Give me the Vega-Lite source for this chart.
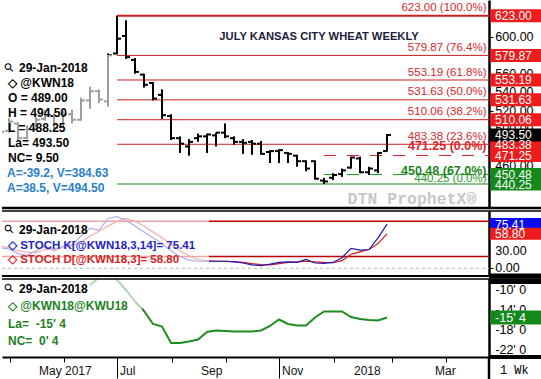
{
"$schema":"https://vega.github.io/schema/vega-lite/v6.json",
"padding":0,
"background":"white",
"spacing":3,
"bounds":"flush",
"config":{"view":{"stroke":null},"font":"Liberation Sans","axis":{"labelFont":"Liberation Sans"}},
"resolve":{"scale":{"x":"independent","y":"independent","color":"independent"}},
"datasets":{
"bars":[
{"d":"2017-04-03","o":500,"h":506,"l":492,"c":497},
{"d":"2017-04-10","o":498,"h":512,"l":496,"c":508},
{"d":"2017-04-17","o":506,"h":507,"l":487,"c":490},
{"d":"2017-04-24","o":490,"h":504,"l":489,"c":500},
{"d":"2017-05-01","o":500,"h":513,"l":499,"c":510},
{"d":"2017-05-08","o":511,"h":521,"l":509,"c":514},
{"d":"2017-05-15","o":514,"h":517,"l":497,"c":501},
{"d":"2017-05-22","o":502,"h":520,"l":501,"c":516},
{"d":"2017-05-29","o":516,"h":521,"l":506,"c":510},
{"d":"2017-06-05","o":510,"h":534,"l":509,"c":531},
{"d":"2017-06-12","o":531,"h":546,"l":522,"c":541},
{"d":"2017-06-19","o":541,"h":543,"l":528,"c":532},
{"d":"2017-06-26","o":530,"h":582,"l":524,"c":580},
{"d":"2017-07-03","o":582,"h":623,"l":581,"c":598},
{"d":"2017-07-10","o":601,"h":618,"l":576,"c":578},
{"d":"2017-07-17","o":575,"h":577,"l":560,"c":562},
{"d":"2017-07-24","o":559,"h":560,"l":545,"c":548},
{"d":"2017-07-31","o":550,"h":551,"l":531,"c":533},
{"d":"2017-08-07","o":537,"h":543,"l":511,"c":515},
{"d":"2017-08-14","o":514,"h":516,"l":488,"c":490},
{"d":"2017-08-21","o":490,"h":492,"l":474,"c":484},
{"d":"2017-08-28","o":481,"h":489,"l":471,"c":486},
{"d":"2017-09-04","o":490,"h":495,"l":486,"c":492},
{"d":"2017-09-11","o":492,"h":495,"l":474,"c":494},
{"d":"2017-09-18","o":493,"h":496,"l":481,"c":496},
{"d":"2017-09-25","o":496,"h":506,"l":490,"c":492},
{"d":"2017-10-02","o":490,"h":492,"l":483,"c":486},
{"d":"2017-10-09","o":486,"h":489,"l":473,"c":485},
{"d":"2017-10-16","o":486,"h":488,"l":472,"c":484},
{"d":"2017-10-23","o":484,"h":487,"l":472,"c":473},
{"d":"2017-10-30","o":475,"h":477,"l":463,"c":476},
{"d":"2017-11-06","o":476,"h":478,"l":463,"c":477},
{"d":"2017-11-13","o":474,"h":475,"l":463,"c":473},
{"d":"2017-11-20","o":471,"h":472,"l":459,"c":465},
{"d":"2017-11-27","o":465,"h":466,"l":454,"c":457},
{"d":"2017-12-04","o":465,"h":466,"l":445,"c":446},
{"d":"2017-12-11","o":444,"h":447,"l":440.25,"c":443},
{"d":"2017-12-18","o":447,"h":452,"l":444.5,"c":450},
{"d":"2017-12-25","o":451,"h":457,"l":448,"c":455},
{"d":"2018-01-01","o":458,"h":470,"l":457,"c":469},
{"d":"2018-01-08","o":468,"h":470,"l":452,"c":453},
{"d":"2018-01-15","o":453,"h":459,"l":450,"c":457},
{"d":"2018-01-22","o":455,"h":475,"l":452,"c":474},
{"d":"2018-01-29","o":476,"h":494.5,"l":475.5,"c":493.5}
],
"fib":[
{"lv":623,"lab":"623.00 (100.0%)"},
{"lv":579.87,"lab":"579.87 (76.4%)"},
{"lv":553.19,"lab":"553.19 (61.8%)"},
{"lv":531.63,"lab":"531.63 (50.0%)"},
{"lv":510.06,"lab":"510.06 (38.2%)"},
{"lv":483.38,"lab":"483.38 (23.6%)"}
],
"stoch":[
{"d":"2017-04-03","k":35,"dd":38},
{"d":"2017-04-10","k":33,"dd":35},
{"d":"2017-04-17","k":25,"dd":30},
{"d":"2017-04-24","k":22,"dd":27},
{"d":"2017-05-01","k":30,"dd":27},
{"d":"2017-05-08","k":38,"dd":32},
{"d":"2017-05-15","k":30,"dd":33},
{"d":"2017-05-22","k":38,"dd":35},
{"d":"2017-05-29","k":40,"dd":39},
{"d":"2017-06-05","k":55,"dd":44},
{"d":"2017-06-12","k":68,"dd":55},
{"d":"2017-06-19","k":65,"dd":63},
{"d":"2017-06-26","k":85,"dd":72},
{"d":"2017-07-03","k":88,"dd":80},
{"d":"2017-07-10","k":82,"dd":85},
{"d":"2017-07-17","k":72,"dd":80},
{"d":"2017-07-24","k":62,"dd":72},
{"d":"2017-07-31","k":52,"dd":62},
{"d":"2017-08-07","k":42,"dd":52},
{"d":"2017-08-14","k":30,"dd":41},
{"d":"2017-08-21","k":20,"dd":30},
{"d":"2017-08-28","k":14,"dd":21},
{"d":"2017-09-04","k":12,"dd":15},
{"d":"2017-09-11","k":12,"dd":13},
{"d":"2017-09-18","k":12,"dd":12},
{"d":"2017-09-25","k":12,"dd":12},
{"d":"2017-10-02","k":11,"dd":11.5},
{"d":"2017-10-09","k":9,"dd":10},
{"d":"2017-10-16","k":6,"dd":8},
{"d":"2017-10-23","k":4.5,"dd":6.5},
{"d":"2017-10-30","k":7,"dd":6},
{"d":"2017-11-06","k":10,"dd":8},
{"d":"2017-11-13","k":11,"dd":10},
{"d":"2017-11-20","k":10,"dd":11},
{"d":"2017-11-27","k":15,"dd":12},
{"d":"2017-12-04","k":9,"dd":11},
{"d":"2017-12-11","k":8.5,"dd":10},
{"d":"2017-12-18","k":10,"dd":9.5},
{"d":"2017-12-25","k":18,"dd":13},
{"d":"2018-01-01","k":34,"dd":24},
{"d":"2018-01-08","k":31,"dd":28},
{"d":"2018-01-15","k":32,"dd":32},
{"d":"2018-01-22","k":52,"dd":42},
{"d":"2018-01-29","k":75.41,"dd":58.8}
],
"spread":[
{"d":"2017-06-12","s":-9.0},
{"d":"2017-06-19","s":-7.5},
{"d":"2017-06-26","s":-6.5},
{"d":"2017-07-03","s":-8.0},
{"d":"2017-07-10","s":-10.0},
{"d":"2017-07-17","s":-12.3},
{"d":"2017-07-24","s":-14.2},
{"d":"2017-07-31","s":-16.8},
{"d":"2017-08-07","s":-17.3},
{"d":"2017-08-14","s":-20.6},
{"d":"2017-08-21","s":-20.6},
{"d":"2017-08-28","s":-20.3},
{"d":"2017-09-04","s":-19.9},
{"d":"2017-09-11","s":-18.4},
{"d":"2017-09-18","s":-18.1},
{"d":"2017-09-25","s":-18.2},
{"d":"2017-10-02","s":-18.3},
{"d":"2017-10-09","s":-18.3},
{"d":"2017-10-16","s":-18.3},
{"d":"2017-10-23","s":-18.1},
{"d":"2017-10-30","s":-17.2},
{"d":"2017-11-06","s":-15.9},
{"d":"2017-11-13","s":-16.8},
{"d":"2017-11-20","s":-17.1},
{"d":"2017-11-27","s":-17.1},
{"d":"2017-12-04","s":-15.5},
{"d":"2017-12-11","s":-14.3},
{"d":"2017-12-18","s":-14.3},
{"d":"2017-12-25","s":-14.3},
{"d":"2018-01-01","s":-15.4},
{"d":"2018-01-08","s":-15.8},
{"d":"2018-01-15","s":-16.0},
{"d":"2018-01-22","s":-16.1},
{"d":"2018-01-29","s":-15.5}
],
"boxTop":[
{"v":623,"t":"623.00","k":"r"},
{"v":579.87,"t":"579.87","k":"r"},
{"v":553.19,"t":"553.19","k":"r"},
{"v":531.63,"t":"531.63","k":"r"},
{"v":510.06,"t":"510.06","k":"r"},
{"v":483.38,"t":"483.38","k":"r"},
{"v":493.5,"t":"493.50","k":"k"},
{"v":471.25,"t":"471.25","k":"r"},
{"v":450.48,"t":"450.48","k":"g"},
{"v":440.25,"t":"440.25","k":"g"}
],
"boxSto":[
{"v":75.41,"t":"75.41","k":"b"},
{"v":58.8,"t":"58.80","k":"r"}
],
"boxSpr":[
{"v":-15.5,"t":"-15' 4","k":"g"}
],
"ytTop":[{"v":440},{"v":460},{"v":480},{"v":500},{"v":520},{"v":540},{"v":560},{"v":580},{"v":600},{"v":620}],
"ytSto":[{"v":0},{"v":30},{"v":60}],
"ytSpr":[{"v":-22,"t":"-22' 0"},{"v":-18,"t":"-18' 0"},{"v":-14,"t":"-14' 0"},{"v":-10,"t":"-10' 0"}],
"xlab":[
{"d":"2017-05-01","t":"May 2017"},
{"d":"2017-07-03","t":"Jul"},
{"d":"2017-09-04","t":"Sep"},
{"d":"2017-11-06","t":"Nov"},
{"d":"2018-01-01","t":"2018"},
{"d":"2018-03-05","t":"Mar"}
]
},
"vconcat":[
{
"width":487,"height":208,
"layer":[
{"data":{"name":"fib"},"mark":{"type":"rule","color":"#cc1f1f"},
"encoding":{"x":{"datum":{"year":2017,"month":"jul","date":3,"utc":true},"type":"temporal","scale":{"type":"utc","domain":[{"year":2017,"month":"apr","date":4,"hours":13,"utc":true},{"year":2018,"month":"apr","date":18,"hours":7,"minutes":43,"utc":true}]},"axis":null},
"x2":{"datum":{"year":2018,"month":"apr","date":18,"hours":7,"minutes":43,"utc":true}},
"y":{"field":"lv","type":"quantitative","scale":{"domain":[414.19,640.05],"nice":false,"zero":false},"axis":{"orient":"right","values":[440,460,480,500,520,540,560,580,600,620],"labels":false,"tickColor":"black","tickSize":4,"domainColor":"black","domainWidth":2.5,"grid":false,"title":null}},
"strokeWidth":{"condition":{"test":"datum.lv == 623","value":2},"value":1}}},
{"data":{"values":[{}]},"mark":{"type":"rule","color":"#1a8a1a","strokeWidth":1},
"encoding":{"x":{"datum":{"year":2017,"month":"jul","date":3,"utc":true},"type":"temporal","scale":{"type":"utc","domain":[{"year":2017,"month":"apr","date":4,"hours":13,"utc":true},{"year":2018,"month":"apr","date":18,"hours":7,"minutes":43,"utc":true}]},"axis":null},
"x2":{"datum":{"year":2018,"month":"apr","date":18,"hours":7,"minutes":43,"utc":true}},
"y":{"datum":440.25,"type":"quantitative","scale":{"domain":[414.19,640.05],"nice":false,"zero":false}}}},
{"data":{"values":[{}]},"mark":{"type":"rule","color":"#cc1f1f","strokeWidth":1,"strokeDash":[12,11]},
"encoding":{"x":{"datum":{"year":2017,"month":"dec","date":11,"utc":true},"type":"temporal","scale":{"type":"utc","domain":[{"year":2017,"month":"apr","date":4,"hours":13,"utc":true},{"year":2018,"month":"apr","date":18,"hours":7,"minutes":43,"utc":true}]},"axis":null},
"x2":{"datum":{"year":2018,"month":"apr","date":18,"hours":7,"minutes":43,"utc":true}},
"y":{"datum":471.25,"type":"quantitative","scale":{"domain":[414.19,640.05],"nice":false,"zero":false}}}},
{"data":{"values":[{}]},"mark":{"type":"rule","color":"#1a8a1a","strokeWidth":1,"strokeDash":[12,11]},
"encoding":{"x":{"datum":{"year":2017,"month":"dec","date":11,"utc":true},"type":"temporal","scale":{"type":"utc","domain":[{"year":2017,"month":"apr","date":4,"hours":13,"utc":true},{"year":2018,"month":"apr","date":18,"hours":7,"minutes":43,"utc":true}]},"axis":null},
"x2":{"datum":{"year":2018,"month":"apr","date":18,"hours":7,"minutes":43,"utc":true}},
"y":{"datum":450.48,"type":"quantitative","scale":{"domain":[414.19,640.05],"nice":false,"zero":false}}}},
{"data":{"name":"bars"},"mark":{"type":"rule","color":"black","strokeWidth":2,"clip":true},
"encoding":{"x":{"field":"d","type":"temporal","scale":{"type":"utc","domain":[{"year":2017,"month":"apr","date":4,"hours":13,"utc":true},{"year":2018,"month":"apr","date":18,"hours":7,"minutes":43,"utc":true}]},"axis":null},
"y":{"field":"l","type":"quantitative","scale":{"domain":[414.19,640.05],"nice":false,"zero":false}},"y2":{"field":"h"}}},
{"data":{"name":"bars"},"mark":{"type":"rule","color":"black","strokeWidth":2,"xOffset":-4,"x2Offset":0,"clip":true},
"encoding":{"x":{"field":"d","type":"temporal","scale":{"type":"utc","domain":[{"year":2017,"month":"apr","date":4,"hours":13,"utc":true},{"year":2018,"month":"apr","date":18,"hours":7,"minutes":43,"utc":true}]},"axis":null},"x2":{"field":"d"},
"y":{"field":"o","type":"quantitative","scale":{"domain":[414.19,640.05],"nice":false,"zero":false}}}},
{"data":{"name":"bars"},"mark":{"type":"rule","color":"black","strokeWidth":2,"xOffset":0,"x2Offset":4,"clip":true},
"encoding":{"x":{"field":"d","type":"temporal","scale":{"type":"utc","domain":[{"year":2017,"month":"apr","date":4,"hours":13,"utc":true},{"year":2018,"month":"apr","date":18,"hours":7,"minutes":43,"utc":true}]},"axis":null},"x2":{"field":"d"},
"y":{"field":"c","type":"quantitative","scale":{"domain":[414.19,640.05],"nice":false,"zero":false}}}},
{"data":{"values":[{}]},"mark":{"type":"rect","fill":"white","opacity":0.62},
"encoding":{"x":{"datum":{"year":2017,"month":"apr","date":4,"hours":13,"utc":true},"type":"temporal","scale":{"type":"utc","domain":[{"year":2017,"month":"apr","date":4,"hours":13,"utc":true},{"year":2018,"month":"apr","date":18,"hours":7,"minutes":43,"utc":true}]},"axis":null},
"x2":{"datum":{"year":2017,"month":"jun","date":29,"hours":4,"utc":true}},
"y":{"datum":580.3,"type":"quantitative","scale":{"domain":[414.19,640.05],"nice":false,"zero":false}},"y2":{"datum":428.3}}},
{"data":{"name":"fib"},"mark":{"type":"text","align":"right","baseline":"alphabetic","dx":-2.5,"dy":-4.4,"fontSize":11.5,"color":"#d8262b"},
"encoding":{"x":{"datum":{"year":2018,"month":"apr","date":18,"hours":7,"minutes":43,"utc":true},"type":"temporal","scale":{"type":"utc","domain":[{"year":2017,"month":"apr","date":4,"hours":13,"utc":true},{"year":2018,"month":"apr","date":18,"hours":7,"minutes":43,"utc":true}]},"axis":null},
"y":{"field":"lv","type":"quantitative","scale":{"domain":[414.19,640.05],"nice":false,"zero":false}},"text":{"field":"lab"}}},
{"data":{"values":[{}]},"mark":{"type":"text","align":"right","baseline":"alphabetic","dx":-2.5,"dy":-1.6,"fontSize":11.5,"color":"#2a9a2a","text":"440.25 (0.0%)"},
"encoding":{"x":{"datum":{"year":2018,"month":"apr","date":18,"hours":7,"minutes":43,"utc":true},"type":"temporal","scale":{"type":"utc","domain":[{"year":2017,"month":"apr","date":4,"hours":13,"utc":true},{"year":2018,"month":"apr","date":18,"hours":7,"minutes":43,"utc":true}]},"axis":null},
"y":{"datum":440.25,"type":"quantitative","scale":{"domain":[414.19,640.05],"nice":false,"zero":false}}}},
{"data":{"values":[{}]},"mark":{"type":"text","align":"right","baseline":"alphabetic","dx":-2.5,"dy":-5,"fontSize":12.5,"fontWeight":"bold","color":"#e0232a","text":"471.25 (0.0%)"},
"encoding":{"x":{"datum":{"year":2018,"month":"apr","date":18,"hours":7,"minutes":43,"utc":true},"type":"temporal","scale":{"type":"utc","domain":[{"year":2017,"month":"apr","date":4,"hours":13,"utc":true},{"year":2018,"month":"apr","date":18,"hours":7,"minutes":43,"utc":true}]},"axis":null},
"y":{"datum":471.25,"type":"quantitative","scale":{"domain":[414.19,640.05],"nice":false,"zero":false}}}},
{"data":{"values":[{}]},"mark":{"type":"text","align":"right","baseline":"alphabetic","dx":-2.5,"dy":0,"fontSize":12.5,"fontWeight":"bold","color":"#1f861f","text":"450.48 (67.0%)"},
"encoding":{"x":{"datum":{"year":2018,"month":"apr","date":18,"hours":7,"minutes":43,"utc":true},"type":"temporal","scale":{"type":"utc","domain":[{"year":2017,"month":"apr","date":4,"hours":13,"utc":true},{"year":2018,"month":"apr","date":18,"hours":7,"minutes":43,"utc":true}]},"axis":null},
"y":{"datum":450.48,"type":"quantitative","scale":{"domain":[414.19,640.05],"nice":false,"zero":false}}}},
{"data":{"values":[{}]},"mark":{"type":"text","align":"center","baseline":"middle","fontSize":11.2,"fontWeight":"bold","color":"#1c1c3a","text":"JULY KANSAS CITY WHEAT WEEKLY"},
"encoding":{"x":{"datum":{"year":2017,"month":"dec","date":7,"hours":3,"utc":true},"type":"temporal","scale":{"type":"utc","domain":[{"year":2017,"month":"apr","date":4,"hours":13,"utc":true},{"year":2018,"month":"apr","date":18,"hours":7,"minutes":43,"utc":true}]},"axis":null},
"y":{"datum":599.5,"type":"quantitative","scale":{"domain":[414.19,640.05],"nice":false,"zero":false}}}},
{"data":{"values":[{}]},"mark":{"type":"text","align":"center","baseline":"middle","font":"Liberation Mono","fontSize":16.5,"fontWeight":"bold","color":"#c6c6c6","text":"DTN ProphetX®"},
"encoding":{"x":{"datum":{"year":2018,"month":"feb","date":17,"hours":10,"utc":true},"type":"temporal","scale":{"type":"utc","domain":[{"year":2017,"month":"apr","date":4,"hours":13,"utc":true},{"year":2018,"month":"apr","date":18,"hours":7,"minutes":43,"utc":true}]},"axis":null},
"y":{"datum":423.96,"type":"quantitative","scale":{"domain":[414.19,640.05],"nice":false,"zero":false}}}},
{"data":{"values":[{}]},"mark":{"type":"text","align":"center","baseline":"middle","font":"DejaVu Sans","fontSize":12,"angle":315,"dx":5,"dy":5,"color":"black","text":"⚲"},
"encoding":{"x":{"datum":{"year":2017,"month":"apr","date":4,"hours":13,"utc":true},"type":"temporal","scale":{"type":"utc","domain":[{"year":2017,"month":"apr","date":4,"hours":13,"utc":true},{"year":2018,"month":"apr","date":18,"hours":7,"minutes":43,"utc":true}]},"axis":null},
"y":{"datum":566.75,"type":"quantitative","scale":{"domain":[414.19,640.05],"nice":false,"zero":false}}}},
{"data":{"values":[{}]},"mark":{"type":"text","align":"left","baseline":"alphabetic","dx":17,"fontSize":12,"fontWeight":"bold","color":"black","text":"29-Jan-2018"},
"encoding":{"x":{"datum":{"year":2017,"month":"apr","date":4,"hours":13,"utc":true},"type":"temporal","scale":{"type":"utc","domain":[{"year":2017,"month":"apr","date":4,"hours":13,"utc":true},{"year":2018,"month":"apr","date":18,"hours":7,"minutes":43,"utc":true}]},"axis":null},
"y":{"datum":561.9,"type":"quantitative","scale":{"domain":[414.19,640.05],"nice":false,"zero":false}}}},
{"data":{"values":[{}]},"mark":{"type":"text","align":"left","baseline":"alphabetic","dx":6,"fontSize":12,"fontWeight":"bold","lineHeight":15,"color":"black","text":["◇ @KWN18","O = 489.00","H = 494.50","L = 488.25","La= 493.50","NC= 9.50"]},
"encoding":{"x":{"datum":{"year":2017,"month":"apr","date":4,"hours":13,"utc":true},"type":"temporal","scale":{"type":"utc","domain":[{"year":2017,"month":"apr","date":4,"hours":13,"utc":true},{"year":2018,"month":"apr","date":18,"hours":7,"minutes":43,"utc":true}]},"axis":null},
"y":{"datum":546.0,"type":"quantitative","scale":{"domain":[414.19,640.05],"nice":false,"zero":false}}}},
{"data":{"values":[{}]},"mark":{"type":"text","align":"left","baseline":"alphabetic","dx":5,"fontSize":12,"fontWeight":"bold","lineHeight":15,"color":"#2a7fc9","text":["A=-39.2, V=384.63","A=38.5, V=494.50"]},
"encoding":{"x":{"datum":{"year":2017,"month":"apr","date":4,"hours":13,"utc":true},"type":"temporal","scale":{"type":"utc","domain":[{"year":2017,"month":"apr","date":4,"hours":13,"utc":true},{"year":2018,"month":"apr","date":18,"hours":7,"minutes":43,"utc":true}]},"axis":null},
"y":{"datum":447.85,"type":"quantitative","scale":{"domain":[414.19,640.05],"nice":false,"zero":false}}}},
{"data":{"name":"ytTop"},"mark":{"type":"text","align":"left","baseline":"middle","dx":6.3,"fontSize":12.5,"color":"black"},
"encoding":{"x":{"datum":{"year":2018,"month":"apr","date":18,"hours":7,"minutes":43,"utc":true},"type":"temporal","scale":{"type":"utc","domain":[{"year":2017,"month":"apr","date":4,"hours":13,"utc":true},{"year":2018,"month":"apr","date":18,"hours":7,"minutes":43,"utc":true}]},"axis":null},
"y":{"field":"v","type":"quantitative","scale":{"domain":[414.19,640.05],"nice":false,"zero":false}},"text":{"field":"v","type":"quantitative","format":".2f"}}},
{"data":{"name":"boxTop"},"mark":{"type":"rect","yOffset":-6.5,"y2Offset":6.5},
"encoding":{"x":{"datum":{"year":2018,"month":"apr","date":19,"hours":6,"utc":true},"type":"temporal","scale":{"type":"utc","domain":[{"year":2017,"month":"apr","date":4,"hours":13,"utc":true},{"year":2018,"month":"apr","date":18,"hours":7,"minutes":43,"utc":true}]},"axis":null},
"x2":{"datum":{"year":2018,"month":"may","date":30,"hours":12,"utc":true}},
"y":{"field":"v","type":"quantitative","scale":{"domain":[414.19,640.05],"nice":false,"zero":false}},"y2":{"field":"v"},
"color":{"field":"k","type":"nominal","scale":{"domain":["r","g","k","b"],"range":["#ee1c1c","#12891a","#000000","#1010f0"]},"legend":null}}},
{"data":{"name":"boxTop"},"mark":{"type":"text","align":"left","baseline":"middle","dx":2,"dy":0.5,"fontSize":12,"color":"white"},
"encoding":{"x":{"datum":{"year":2018,"month":"apr","date":21,"hours":12,"utc":true},"type":"temporal","scale":{"type":"utc","domain":[{"year":2017,"month":"apr","date":4,"hours":13,"utc":true},{"year":2018,"month":"apr","date":18,"hours":7,"minutes":43,"utc":true}]},"axis":null},
"y":{"field":"v","type":"quantitative","scale":{"domain":[414.19,640.05],"nice":false,"zero":false}},"text":{"field":"t"}}},
{"data":{"values":[{}]},"mark":{"type":"rule","color":"black","strokeWidth":2.5},
"encoding":{"x":{"datum":{"year":2017,"month":"apr","date":4,"hours":13,"utc":true},"type":"temporal","scale":{"type":"utc","domain":[{"year":2017,"month":"apr","date":4,"hours":13,"utc":true},{"year":2018,"month":"apr","date":18,"hours":7,"minutes":43,"utc":true}]},"axis":null},
"x2":{"datum":{"year":2018,"month":"may","date":30,"hours":12,"utc":true}},
"y":{"datum":414.19,"type":"quantitative","scale":{"domain":[414.19,640.05],"nice":false,"zero":false}}}}
]
},
{
"width":487,"height":65,
"layer":[
{"data":{"values":[{}]},"mark":{"type":"rule","color":"#c00000","strokeWidth":1.5},
"encoding":{"x":{"datum":{"year":2017,"month":"apr","date":4,"hours":13,"utc":true},"type":"temporal","scale":{"type":"utc","domain":[{"year":2017,"month":"apr","date":4,"hours":13,"utc":true},{"year":2018,"month":"apr","date":18,"hours":7,"minutes":43,"utc":true}]},"axis":null},
"x2":{"datum":{"year":2018,"month":"apr","date":18,"hours":7,"minutes":43,"utc":true}},
"y":{"datum":80,"type":"quantitative","scale":{"domain":[-13.12,97.67],"nice":false,"zero":false},"axis":{"orient":"right","values":[0,30,60],"labels":false,"tickColor":"black","tickSize":4,"domainColor":"black","domainWidth":2.5,"grid":false,"title":null}}}},
{"data":{"values":[{}]},"mark":{"type":"rule","color":"#c00000","strokeWidth":1.5},
"encoding":{"x":{"datum":{"year":2017,"month":"apr","date":4,"hours":13,"utc":true},"type":"temporal","scale":{"type":"utc","domain":[{"year":2017,"month":"apr","date":4,"hours":13,"utc":true},{"year":2018,"month":"apr","date":18,"hours":7,"minutes":43,"utc":true}]},"axis":null},
"x2":{"datum":{"year":2018,"month":"apr","date":18,"hours":7,"minutes":43,"utc":true}},
"y":{"datum":20,"type":"quantitative","scale":{"domain":[-13.12,97.67],"nice":false,"zero":false}}}},
{"data":{"values":[{}]},"mark":{"type":"rule","color":"#b8b8b8","strokeWidth":1,"strokeDash":[3,3]},
"encoding":{"x":{"datum":{"year":2017,"month":"apr","date":4,"hours":13,"utc":true},"type":"temporal","scale":{"type":"utc","domain":[{"year":2017,"month":"apr","date":4,"hours":13,"utc":true},{"year":2018,"month":"apr","date":18,"hours":7,"minutes":43,"utc":true}]},"axis":null},
"x2":{"datum":{"year":2018,"month":"apr","date":18,"hours":7,"minutes":43,"utc":true}},
"y":{"datum":0,"type":"quantitative","scale":{"domain":[-13.12,97.67],"nice":false,"zero":false}}}},
{"data":{"name":"stoch"},"mark":{"type":"line","color":"#d41414","strokeWidth":1.2,"clip":true},
"encoding":{"x":{"field":"d","type":"temporal","scale":{"type":"utc","domain":[{"year":2017,"month":"apr","date":4,"hours":13,"utc":true},{"year":2018,"month":"apr","date":18,"hours":7,"minutes":43,"utc":true}]},"axis":null},
"y":{"field":"dd","type":"quantitative","scale":{"domain":[-13.12,97.67],"nice":false,"zero":false}}}},
{"data":{"name":"stoch"},"mark":{"type":"line","color":"#1a1ab4","strokeWidth":1.2,"clip":true},
"encoding":{"x":{"field":"d","type":"temporal","scale":{"type":"utc","domain":[{"year":2017,"month":"apr","date":4,"hours":13,"utc":true},{"year":2018,"month":"apr","date":18,"hours":7,"minutes":43,"utc":true}]},"axis":null},
"y":{"field":"k","type":"quantitative","scale":{"domain":[-13.12,97.67],"nice":false,"zero":false}}}},
{"data":{"values":[{}]},"mark":{"type":"rect","fill":"white","opacity":0.65},
"encoding":{"x":{"datum":{"year":2017,"month":"apr","date":4,"hours":13,"utc":true},"type":"temporal","scale":{"type":"utc","domain":[{"year":2017,"month":"apr","date":4,"hours":13,"utc":true},{"year":2018,"month":"apr","date":18,"hours":7,"minutes":43,"utc":true}]},"axis":null},
"x2":{"datum":{"year":2017,"month":"sep","date":12,"hours":13,"utc":true}},
"y":{"datum":97.67,"type":"quantitative","scale":{"domain":[-13.12,97.67],"nice":false,"zero":false}},"y2":{"datum":3.9}}},
{"data":{"values":[{}]},"mark":{"type":"text","align":"center","baseline":"middle","font":"DejaVu Sans","fontSize":12,"angle":315,"dx":5,"dy":5,"color":"black","text":"⚲"},
"encoding":{"x":{"datum":{"year":2017,"month":"apr","date":4,"hours":13,"utc":true},"type":"temporal","scale":{"type":"utc","domain":[{"year":2017,"month":"apr","date":4,"hours":13,"utc":true},{"year":2018,"month":"apr","date":18,"hours":7,"minutes":43,"utc":true}]},"axis":null},
"y":{"datum":67.0,"type":"quantitative","scale":{"domain":[-13.12,97.67],"nice":false,"zero":false}}}},
{"data":{"values":[{}]},"mark":{"type":"text","align":"left","baseline":"alphabetic","dx":17,"fontSize":12,"fontWeight":"bold","color":"black","text":"29-Jan-2018"},
"encoding":{"x":{"datum":{"year":2017,"month":"apr","date":4,"hours":13,"utc":true},"type":"temporal","scale":{"type":"utc","domain":[{"year":2017,"month":"apr","date":4,"hours":13,"utc":true},{"year":2018,"month":"apr","date":18,"hours":7,"minutes":43,"utc":true}]},"axis":null},
"y":{"datum":59.1,"type":"quantitative","scale":{"domain":[-13.12,97.67],"nice":false,"zero":false}}}},
{"data":{"values":[{}]},"mark":{"type":"text","align":"left","baseline":"alphabetic","dx":6,"fontSize":11.5,"fontWeight":"bold","color":"#2323c3","text":"◇ STOCH K[@KWN18,3,14]= 75.41"},
"encoding":{"x":{"datum":{"year":2017,"month":"apr","date":4,"hours":13,"utc":true},"type":"temporal","scale":{"type":"utc","domain":[{"year":2017,"month":"apr","date":4,"hours":13,"utc":true},{"year":2018,"month":"apr","date":18,"hours":7,"minutes":43,"utc":true}]},"axis":null},
"y":{"datum":32.6,"type":"quantitative","scale":{"domain":[-13.12,97.67],"nice":false,"zero":false}}}},
{"data":{"values":[{}]},"mark":{"type":"text","align":"left","baseline":"alphabetic","dx":6,"fontSize":11.5,"fontWeight":"bold","color":"#d42323","text":"◇ STOCH D[@KWN18,3]= 58.80"},
"encoding":{"x":{"datum":{"year":2017,"month":"apr","date":4,"hours":13,"utc":true},"type":"temporal","scale":{"type":"utc","domain":[{"year":2017,"month":"apr","date":4,"hours":13,"utc":true},{"year":2018,"month":"apr","date":18,"hours":7,"minutes":43,"utc":true}]},"axis":null},
"y":{"datum":8.7,"type":"quantitative","scale":{"domain":[-13.12,97.67],"nice":false,"zero":false}}}},
{"data":{"name":"ytSto"},"mark":{"type":"text","align":"left","baseline":"middle","dx":6.3,"fontSize":12.5,"color":"black"},
"encoding":{"x":{"datum":{"year":2018,"month":"apr","date":18,"hours":7,"minutes":43,"utc":true},"type":"temporal","scale":{"type":"utc","domain":[{"year":2017,"month":"apr","date":4,"hours":13,"utc":true},{"year":2018,"month":"apr","date":18,"hours":7,"minutes":43,"utc":true}]},"axis":null},
"y":{"field":"v","type":"quantitative","scale":{"domain":[-13.12,97.67],"nice":false,"zero":false}},"text":{"field":"v","type":"quantitative","format":".2f"}}},
{"data":{"name":"boxSto"},"mark":{"type":"rect","yOffset":-6,"y2Offset":6},
"encoding":{"x":{"datum":{"year":2018,"month":"apr","date":19,"hours":6,"utc":true},"type":"temporal","scale":{"type":"utc","domain":[{"year":2017,"month":"apr","date":4,"hours":13,"utc":true},{"year":2018,"month":"apr","date":18,"hours":7,"minutes":43,"utc":true}]},"axis":null},
"x2":{"datum":{"year":2018,"month":"may","date":30,"hours":12,"utc":true}},
"y":{"field":"v","type":"quantitative","scale":{"domain":[-13.12,97.67],"nice":false,"zero":false}},"y2":{"field":"v"},
"color":{"field":"k","type":"nominal","scale":{"domain":["r","g","k","b"],"range":["#ee1c1c","#12891a","#000000","#0a0af5"]},"legend":null}}},
{"data":{"name":"boxSto"},"mark":{"type":"text","align":"left","baseline":"middle","dx":2,"dy":0.5,"fontSize":12,"color":"white"},
"encoding":{"x":{"datum":{"year":2018,"month":"apr","date":21,"hours":12,"utc":true},"type":"temporal","scale":{"type":"utc","domain":[{"year":2017,"month":"apr","date":4,"hours":13,"utc":true},{"year":2018,"month":"apr","date":18,"hours":7,"minutes":43,"utc":true}]},"axis":null},
"y":{"field":"v","type":"quantitative","scale":{"domain":[-13.12,97.67],"nice":false,"zero":false}},"text":{"field":"t"}}},
{"data":{"values":[{}]},"mark":{"type":"rule","color":"black","strokeWidth":1.5},
"encoding":{"x":{"datum":{"year":2017,"month":"apr","date":4,"hours":13,"utc":true},"type":"temporal","scale":{"type":"utc","domain":[{"year":2017,"month":"apr","date":4,"hours":13,"utc":true},{"year":2018,"month":"apr","date":18,"hours":7,"minutes":43,"utc":true}]},"axis":null},
"x2":{"datum":{"year":2018,"month":"may","date":30,"hours":12,"utc":true}},
"y":{"datum":97.67,"type":"quantitative","scale":{"domain":[-13.12,97.67],"nice":false,"zero":false}}}},
{"data":{"values":[{}]},"mark":{"type":"rule","color":"black","strokeWidth":2},
"encoding":{"x":{"datum":{"year":2017,"month":"apr","date":4,"hours":13,"utc":true},"type":"temporal","scale":{"type":"utc","domain":[{"year":2017,"month":"apr","date":4,"hours":13,"utc":true},{"year":2018,"month":"apr","date":18,"hours":7,"minutes":43,"utc":true}]},"axis":null},
"x2":{"datum":{"year":2018,"month":"may","date":30,"hours":12,"utc":true}},
"y":{"datum":-13.12,"type":"quantitative","scale":{"domain":[-13.12,97.67],"nice":false,"zero":false}}}},
{"data":{"values":[{}]},"mark":{"type":"rule","color":"black","strokeWidth":5},
"encoding":{"x":{"datum":{"year":2018,"month":"apr","date":18,"hours":7,"minutes":43,"utc":true},"type":"temporal","scale":{"type":"utc","domain":[{"year":2017,"month":"apr","date":4,"hours":13,"utc":true},{"year":2018,"month":"apr","date":18,"hours":7,"minutes":43,"utc":true}]},"axis":null},
"x2":{"datum":{"year":2018,"month":"may","date":30,"hours":12,"utc":true}},
"y":{"datum":-13.12,"type":"quantitative","scale":{"domain":[-13.12,97.67],"nice":false,"zero":false}}}}
]
},
{
"width":487,"height":78,
"layer":[
{"data":{"name":"spread"},"mark":{"type":"line","color":"#1f8c1f","strokeWidth":2,"clip":true},
"encoding":{"x":{"field":"d","type":"temporal","scale":{"type":"utc","domain":[{"year":2017,"month":"apr","date":4,"hours":13,"utc":true},{"year":2018,"month":"apr","date":18,"hours":7,"minutes":43,"utc":true}]},
"axis":{"orient":"bottom","values":[
{"year":2017,"month":"may","date":1,"utc":true},{"year":2017,"month":"jul","date":3,"utc":true},{"year":2017,"month":"sep","date":4,"utc":true},{"year":2017,"month":"nov","date":6,"utc":true},{"year":2018,"month":"jan","date":1,"utc":true},{"year":2018,"month":"mar","date":5,"utc":true},
{"year":2017,"month":"apr","date":10,"hours":12,"utc":true},{"year":2017,"month":"apr","date":20,"hours":12,"utc":true},{"year":2017,"month":"may","date":11,"hours":12,"utc":true},{"year":2017,"month":"may","date":22,"hours":12,"utc":true},{"year":2017,"month":"jun","date":1,"hours":12,"utc":true},{"year":2017,"month":"jun","date":12,"hours":12,"utc":true},{"year":2017,"month":"jun","date":22,"hours":12,"utc":true},
{"year":2017,"month":"jul","date":13,"hours":12,"utc":true},{"year":2017,"month":"jul","date":24,"hours":12,"utc":true},{"year":2017,"month":"aug","date":3,"hours":12,"utc":true},{"year":2017,"month":"aug","date":14,"hours":12,"utc":true},{"year":2017,"month":"aug","date":24,"hours":12,"utc":true},
{"year":2017,"month":"sep","date":14,"hours":12,"utc":true},{"year":2017,"month":"sep","date":25,"hours":12,"utc":true},{"year":2017,"month":"oct","date":5,"hours":12,"utc":true},{"year":2017,"month":"oct","date":16,"hours":12,"utc":true},{"year":2017,"month":"oct","date":26,"hours":12,"utc":true},
{"year":2017,"month":"nov","date":16,"hours":12,"utc":true},{"year":2017,"month":"nov","date":27,"hours":12,"utc":true},{"year":2017,"month":"dec","date":7,"hours":12,"utc":true},{"year":2017,"month":"dec","date":18,"hours":12,"utc":true},
{"year":2018,"month":"jan","date":11,"hours":12,"utc":true},{"year":2018,"month":"jan","date":22,"hours":12,"utc":true},{"year":2018,"month":"feb","date":1,"hours":12,"utc":true},{"year":2018,"month":"feb","date":12,"hours":12,"utc":true},{"year":2018,"month":"feb","date":22,"hours":12,"utc":true},
{"year":2018,"month":"mar","date":15,"hours":12,"utc":true},{"year":2018,"month":"mar","date":26,"hours":12,"utc":true},{"year":2018,"month":"apr","date":5,"hours":12,"utc":true},{"year":2018,"month":"apr","date":16,"hours":12,"utc":true}],
"labels":false,
"tickSize":{"condition":{"test":"utchours(datum.value) == 0","value":21},"value":5},
"tickColor":"black","domainColor":"black","domainWidth":2,"grid":false,"title":null}},
"y":{"field":"s","type":"quantitative","scale":{"domain":[-23.4,-7.8],"nice":false,"zero":false},
"axis":{"orient":"right","values":[-23,-22,-21,-20,-19,-18,-17,-16,-15,-14,-13,-12,-11,-10,-9,-8],"labels":false,"tickSize":{"condition":{"test":"(datum.value + 22) % 4 == 0","value":4},"value":2.5},"tickColor":"black","domainColor":"black","domainWidth":2.5,"grid":false,"title":null}}}},
{"data":{"values":[{}]},"mark":{"type":"rect","fill":"white","opacity":0.65},
"encoding":{"x":{"datum":{"year":2017,"month":"apr","date":4,"hours":13,"utc":true},"type":"temporal","scale":{"type":"utc","domain":[{"year":2017,"month":"apr","date":4,"hours":13,"utc":true},{"year":2018,"month":"apr","date":18,"hours":7,"minutes":43,"utc":true}]}},
"x2":{"datum":{"year":2017,"month":"jul","date":22,"hours":10,"utc":true}},
"y":{"datum":-7.8,"type":"quantitative","scale":{"domain":[-23.4,-7.8],"nice":false,"zero":false}},"y2":{"datum":-21}}},
{"data":{"values":[{}]},"mark":{"type":"text","align":"center","baseline":"middle","font":"DejaVu Sans","fontSize":12,"angle":315,"dx":5,"dy":5,"color":"black","text":"⚲"},
"encoding":{"x":{"datum":{"year":2017,"month":"apr","date":4,"hours":13,"utc":true},"type":"temporal","scale":{"type":"utc","domain":[{"year":2017,"month":"apr","date":4,"hours":13,"utc":true},{"year":2018,"month":"apr","date":18,"hours":7,"minutes":43,"utc":true}]}},
"y":{"datum":-9.6,"type":"quantitative","scale":{"domain":[-23.4,-7.8],"nice":false,"zero":false}}}},
{"data":{"values":[{}]},"mark":{"type":"text","align":"left","baseline":"alphabetic","dx":17,"fontSize":12,"fontWeight":"bold","color":"black","text":"29-Jan-2018"},
"encoding":{"x":{"datum":{"year":2017,"month":"apr","date":4,"hours":13,"utc":true},"type":"temporal","scale":{"type":"utc","domain":[{"year":2017,"month":"apr","date":4,"hours":13,"utc":true},{"year":2018,"month":"apr","date":18,"hours":7,"minutes":43,"utc":true}]}},
"y":{"datum":-10.52,"type":"quantitative","scale":{"domain":[-23.4,-7.8],"nice":false,"zero":false}}}},
{"data":{"values":[{}]},"mark":{"type":"text","align":"left","baseline":"alphabetic","dx":6,"fontSize":12,"fontWeight":"bold","lineHeight":17.4,"color":"#1f821f","text":["◇ @KWN18@KWU18","La=\u00a0 -15' 4","NC=\u00a0 0' 4"]},
"encoding":{"x":{"datum":{"year":2017,"month":"apr","date":4,"hours":13,"utc":true},"type":"temporal","scale":{"type":"utc","domain":[{"year":2017,"month":"apr","date":4,"hours":13,"utc":true},{"year":2018,"month":"apr","date":18,"hours":7,"minutes":43,"utc":true}]}},
"y":{"datum":-14.06,"type":"quantitative","scale":{"domain":[-23.4,-7.8],"nice":false,"zero":false}}}},
{"data":{"name":"ytSpr"},"mark":{"type":"text","align":"left","baseline":"middle","dx":6.3,"fontSize":12.5,"color":"black"},
"encoding":{"x":{"datum":{"year":2018,"month":"apr","date":18,"hours":7,"minutes":43,"utc":true},"type":"temporal","scale":{"type":"utc","domain":[{"year":2017,"month":"apr","date":4,"hours":13,"utc":true},{"year":2018,"month":"apr","date":18,"hours":7,"minutes":43,"utc":true}]}},
"y":{"field":"v","type":"quantitative","scale":{"domain":[-23.4,-7.8],"nice":false,"zero":false}},"text":{"field":"t"}}},
{"data":{"name":"xlab"},"mark":{"type":"text","align":"left","baseline":"middle","dx":3,"fontSize":12,"color":"#111111"},
"encoding":{"x":{"field":"d","type":"temporal","scale":{"type":"utc","domain":[{"year":2017,"month":"apr","date":4,"hours":13,"utc":true},{"year":2018,"month":"apr","date":18,"hours":7,"minutes":43,"utc":true}]}},
"y":{"datum":-26.25,"type":"quantitative","scale":{"domain":[-23.4,-7.8],"nice":false,"zero":false}},"text":{"field":"t"}}},
{"data":{"name":"boxSpr"},"mark":{"type":"rect","yOffset":-7,"y2Offset":7},
"encoding":{"x":{"datum":{"year":2018,"month":"apr","date":19,"hours":6,"utc":true},"type":"temporal","scale":{"type":"utc","domain":[{"year":2017,"month":"apr","date":4,"hours":13,"utc":true},{"year":2018,"month":"apr","date":18,"hours":7,"minutes":43,"utc":true}]}},
"x2":{"datum":{"year":2018,"month":"may","date":30,"hours":12,"utc":true}},
"y":{"field":"v","type":"quantitative","scale":{"domain":[-23.4,-7.8],"nice":false,"zero":false}},"y2":{"field":"v"},
"color":{"field":"k","type":"nominal","scale":{"domain":["r","g","k","b"],"range":["#ee1c1c","#12891a","#000000","#0a0af5"]},"legend":null}}},
{"data":{"name":"boxSpr"},"mark":{"type":"text","align":"left","baseline":"middle","dx":2,"dy":0.5,"fontSize":12.5,"color":"white"},
"encoding":{"x":{"datum":{"year":2018,"month":"apr","date":21,"hours":12,"utc":true},"type":"temporal","scale":{"type":"utc","domain":[{"year":2017,"month":"apr","date":4,"hours":13,"utc":true},{"year":2018,"month":"apr","date":18,"hours":7,"minutes":43,"utc":true}]}},
"y":{"field":"v","type":"quantitative","scale":{"domain":[-23.4,-7.8],"nice":false,"zero":false}},"text":{"field":"t"}}},
{"data":{"values":[{}]},"mark":{"type":"rule","color":"black","strokeWidth":1.5},
"encoding":{"x":{"datum":{"year":2017,"month":"apr","date":4,"hours":13,"utc":true},"type":"temporal","scale":{"type":"utc","domain":[{"year":2017,"month":"apr","date":4,"hours":13,"utc":true},{"year":2018,"month":"apr","date":18,"hours":7,"minutes":43,"utc":true}]}},
"x2":{"datum":{"year":2018,"month":"may","date":30,"hours":12,"utc":true}},
"y":{"datum":-7.8,"type":"quantitative","scale":{"domain":[-23.4,-7.8],"nice":false,"zero":false}}}},
{"data":{"values":[{}]},"mark":{"type":"rule","color":"black","strokeWidth":5},
"encoding":{"x":{"datum":{"year":2018,"month":"apr","date":18,"hours":7,"minutes":43,"utc":true},"type":"temporal","scale":{"type":"utc","domain":[{"year":2017,"month":"apr","date":4,"hours":13,"utc":true},{"year":2018,"month":"apr","date":18,"hours":7,"minutes":43,"utc":true}]}},
"x2":{"datum":{"year":2018,"month":"may","date":30,"hours":12,"utc":true}},
"y":{"datum":-8.3,"type":"quantitative","scale":{"domain":[-23.4,-7.8],"nice":false,"zero":false}}}},
{"data":{"values":[{}]},"mark":{"type":"rule","color":"black","strokeWidth":4},
"encoding":{"x":{"datum":{"year":2018,"month":"apr","date":18,"hours":7,"minutes":43,"utc":true},"type":"temporal","scale":{"type":"utc","domain":[{"year":2017,"month":"apr","date":4,"hours":13,"utc":true},{"year":2018,"month":"apr","date":18,"hours":7,"minutes":43,"utc":true}]}},
"x2":{"datum":{"year":2018,"month":"may","date":30,"hours":12,"utc":true}},
"y":{"datum":-23.4,"type":"quantitative","scale":{"domain":[-23.4,-7.8],"nice":false,"zero":false}}}},
{"data":{"values":[{}]},"mark":{"type":"rule","color":"black","strokeWidth":2.5},
"encoding":{"x":{"datum":{"year":2018,"month":"apr","date":18,"hours":7,"minutes":43,"utc":true},"type":"temporal","scale":{"type":"utc","domain":[{"year":2017,"month":"apr","date":4,"hours":13,"utc":true},{"year":2018,"month":"apr","date":18,"hours":7,"minutes":43,"utc":true}]}},
"y":{"datum":-23.4,"type":"quantitative","scale":{"domain":[-23.4,-7.8],"nice":false,"zero":false}},"y2":{"datum":-27.8}}},
{"data":{"values":[{}]},"mark":{"type":"text","align":"left","baseline":"middle","font":"Liberation Mono","fontSize":12,"color":"black","text":"1 Wk"},
"encoding":{"x":{"datum":{"year":2018,"month":"apr","date":26,"hours":20,"utc":true},"type":"temporal","scale":{"type":"utc","domain":[{"year":2017,"month":"apr","date":4,"hours":13,"utc":true},{"year":2018,"month":"apr","date":18,"hours":7,"minutes":43,"utc":true}]}},
"y":{"datum":-26,"type":"quantitative","scale":{"domain":[-23.4,-7.8],"nice":false,"zero":false}}}}
]
}
]
}
